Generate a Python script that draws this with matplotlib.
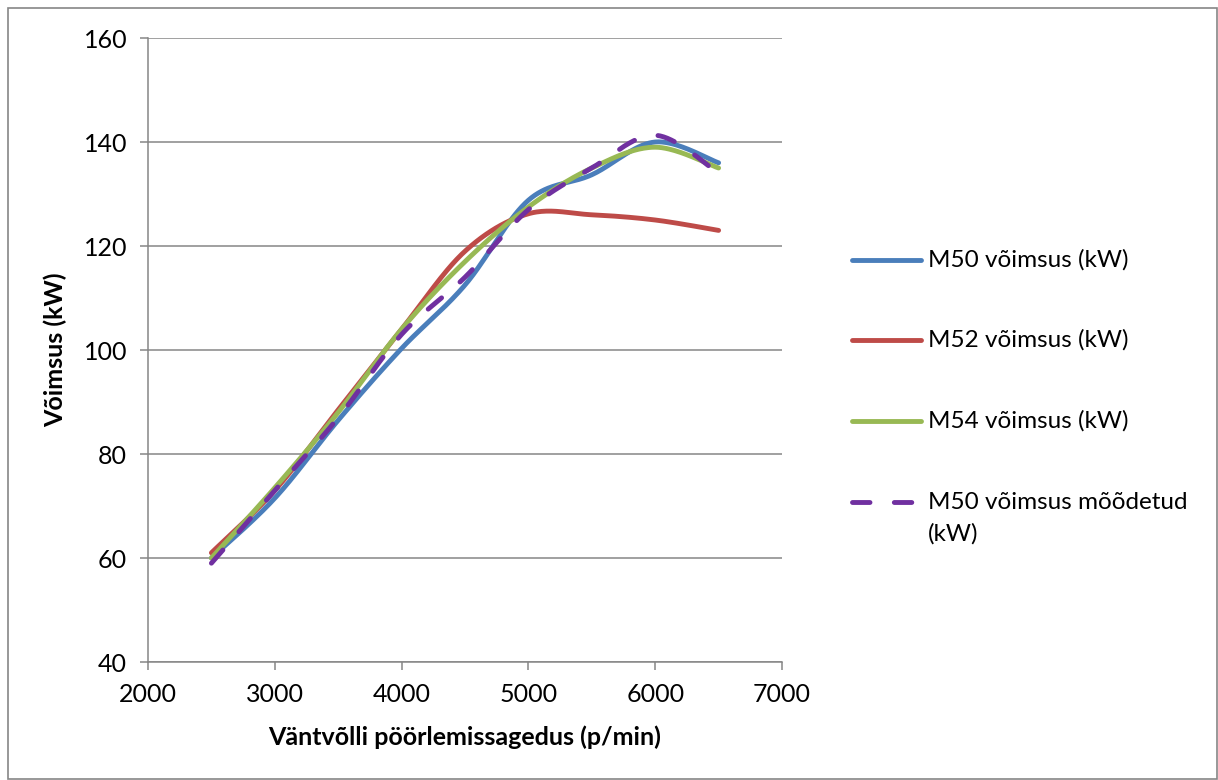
import numpy as np
import matplotlib
matplotlib.use("Agg")
import matplotlib.pyplot as plt
from matplotlib.lines import Line2D
from matplotlib.patches import Rectangle

# ---- data ----
rpm = [2500, 3000, 3500, 4000, 4500, 5000, 5500, 6000, 6500]
m50 = [60.0, 71.5, 86.5, 100.3, 112.5, 128.8, 133.7, 140.0, 136.0]
m52 = [61.0, 73.0, 88.5, 104.0, 119.0, 126.2, 126.0, 125.0, 123.0]
m54 = [60.0, 73.5, 88.0, 104.0, 117.0, 127.5, 135.0, 139.0, 135.0]
m50_meas = [59.0, 73.0, 87.0, 103.0, 114.0, 127.0, 135.0, 141.3, 134.0]

labels = ["M50 võimsus (kW)", "M52 võimsus (kW)", "M54 võimsus (kW)",
          "M50 võimsus mõõdetud\n(kW)"]
xlabel = "Väntvõlli pöörlemissagedus (p/min)"
ylabel = "Võimsus (kW)"
xticks = [2000, 3000, 4000, 5000, 6000, 7000]
yticks = [40, 60, 80, 100, 120, 140, 160]

colors = ["#4A7EBB", "#BE4B48", "#98B954", "#7030A0"]
FONT = "Lato"
GREY = "#868686"
DASH = (3.6, 5.0)


def smooth(x, y, n=40):
    """Excel-like smoothed line (Catmull-Rom cubic Bezier through points)."""
    P = np.column_stack([x, y]).astype(float)
    Pext = np.vstack([P[0], P, P[-1]])
    out = []
    t = np.linspace(0, 1, n)[:, None]
    for i in range(len(P) - 1):
        p0, p1, p2, p3 = Pext[i], Pext[i + 1], Pext[i + 2], Pext[i + 3]
        c1 = p1 + (p2 - p0) / 6.0
        c2 = p2 - (p3 - p1) / 6.0
        seg = ((1 - t) ** 3) * p1 + 3 * ((1 - t) ** 2) * t * c1 + 3 * (1 - t) * t ** 2 * c2 + t ** 3 * p2
        out.append(seg if i == 0 else seg[1:])
    S = np.vstack(out)
    return S[:, 0], S[:, 1]


W, H = 1218, 780
fig = plt.figure(figsize=(W / 100, H / 100), dpi=100)
ax = fig.add_axes([148 / W, 1 - 662 / H, (782 - 148) / W, (662 - 38) / H])

series = [m50, m52, m54, m50_meas]
LW = 3.5
for k, (ys, c) in enumerate(zip(series, colors)):
    sx, sy = smooth(rpm, ys)
    line, = ax.plot(sx, sy, color=c, lw=LW, solid_capstyle="round",
                    dash_capstyle="round", zorder=3 + k)
    if k == 3:
        line.set_dashes(DASH)

ax.set_xlim(2000, 7000)
ax.set_ylim(40, 160)
ax.set_xticks(xticks)
ax.set_yticks(yticks)
ax.yaxis.grid(True, color=GREY, lw=1.1)
ax.set_axisbelow(True)
for s in ["top", "right"]:
    ax.spines[s].set_visible(False)
for s in ["left", "bottom"]:
    ax.spines[s].set_color(GREY)
    ax.spines[s].set_linewidth(1.1)
ax.tick_params(axis="both", direction="out", length=6, width=1.1, color=GREY,
               labelsize=18, pad=9)
for lab in ax.get_xticklabels() + ax.get_yticklabels():
    lab.set_fontfamily(FONT)
    lab.set_color("black")

ax.set_xlabel(xlabel, fontsize=18, fontweight="bold", family=FONT, labelpad=14)
ax.set_ylabel(ylabel, fontsize=18, fontweight="bold", family=FONT, labelpad=12)

# ---- manual legend ----
leg_y = [260, 340, 421, 502]
for k, (lab, c) in enumerate(zip(labels, colors)):
    yy = 1 - leg_y[k] / H
    ln = Line2D([852 / W, 921 / W], [yy, yy], transform=fig.transFigure,
                color=c, lw=LW, solid_capstyle="round", dash_capstyle="round")
    if k == 3:
        ln.set_dashes(DASH)
    fig.add_artist(ln)
    if "\n" in lab:
        first, second = lab.split("\n")
        fig.text(928 / W, yy, first, fontsize=17.5, family=FONT, va="center", ha="left")
        fig.text(928 / W, 1 - (leg_y[k] + 32) / H, second, fontsize=17.5, family=FONT,
                 va="center", ha="left")
    else:
        fig.text(928 / W, yy, lab, fontsize=17.5, family=FONT, va="center", ha="left")

# chart-area border
fig.add_artist(Rectangle((8 / W, 1 - 779 / H), (1217 - 8) / W, (779 - 8) / H,
                         transform=fig.transFigure, fill=False, edgecolor=GREY, lw=1.2))

fig.savefig("out.png", dpi=100)
